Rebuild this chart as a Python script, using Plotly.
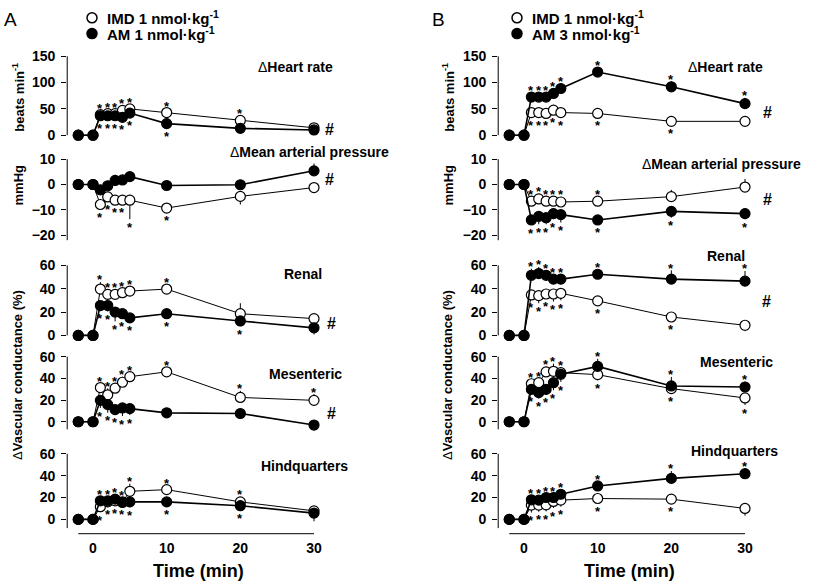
import plotly.graph_objects as go

W, H = 827, 587

time = [-2, 0, 1, 2, 3, 4, 5, 10, 20, 30]
x_ticks = [0, 10, 20, 30]

# ---------------- Panel A (IMD 1 vs AM 1 nmol/kg) ----------------
A_hr_imd = [0, 0, 39, 41, 41, 47, 50, 43, 28, 14]
A_hr_am = [0, 0, 37, 37, 37, 34, 42, 22, 13, 10]
A_map_imd = [0, 0, -7.9, -4.9, -6.2, -6.2, -6.2, -9.3, -4.7, -1.2]
A_map_am = [0, 0, -2.1, -0.5, 1.6, 1.8, 3.1, -0.4, -0.1, 5.4]
A_ren_imd = [0, 0, 39.7, 35.2, 35.2, 36.6, 38, 39.7, 18.6, 14.4]
A_ren_am = [0, 0, 25.6, 25.6, 20, 18.6, 15, 18.6, 12.4, 6.5]
A_mes_imd = [0, 0, 31.5, 24.8, 30.9, 36.4, 41.5, 46, 22.4, 19.7]
A_mes_am = [0, 0, 19.7, 15.8, 11.2, 12.7, 12.1, 8.2, 7.6, -3]
A_hq_imd = [0, 0, 11.6, 16, 17, 16, 25.7, 27.2, 16, 7.8]
A_hq_am = [0, 0, 17, 17, 18.5, 15.5, 16, 16, 12.5, 5.7]

A_hr_imd_err = [0, 0, 5, 5, 5, 5, 5, 6, 6, 4]
A_hr_am_err = [0, 0, 4, 4, 4, 4, 5, 5, 4, 4]
A_map_imd_err = [0, 0, 2, 1.5, 1.5, 1.5, 7.5, 1.5, 3.2, 1.5]
A_map_am_err = [0, 0, 1.5, 2, 2.2, 1.5, 1.2, 1.5, 1.5, 2.9]
A_ren_imd_err = [0, 0, 6, 3, 3, 3, 3, 3, 9, 2]
A_ren_am_err = [0, 0, 3, 5, 8, 3, 3, 2, 4.5, 5.6]
A_mes_imd_err = [0, 0, 3, 6, 4, 5, 4, 3, 6, 5.7]
A_mes_am_err = [0, 0, 7, 7.5, 4.5, 7.5, 6, 4.5, 2, 5.5]
A_hq_imd_err = [0, 0, 5, 3, 3, 4, 7, 3, 4.5, 2]
A_hq_am_err = [0, 0, 4, 3, 3, 4, 5, 2, 4, 7.5]

A_hr_imd_sig = [0, 0, 1, 1, 1, 1, 1, 1, 1, 0]
A_hr_am_sig = [0, 0, 1, 1, 1, 1, 1, 1, 0, 0]
A_map_imd_sig = [0, 0, 1, 1, 1, 1, 1, 1, 0, 0]
A_map_am_sig = [0, 0, 0, 0, 0, 0, 0, 0, 0, 0]
A_ren_imd_sig = [0, 0, 1, 1, 1, 1, 1, 1, 0, 0]
A_ren_am_sig = [0, 0, 1, 1, 1, 1, 1, 1, 1, 0]
A_mes_imd_sig = [0, 0, 1, 1, 1, 1, 1, 1, 1, 1]
A_mes_am_sig = [0, 0, 1, 1, 1, 1, 1, 0, 0, 0]
A_hq_imd_sig = [0, 0, 1, 1, 1, 1, 1, 1, 1, 0]
A_hq_am_sig = [0, 0, 1, 1, 1, 1, 1, 1, 1, 0]

# ---------------- Panel B (IMD 1 vs AM 3 nmol/kg) ----------------
B_hr_imd = [0, 0, 43, 43, 41.3, 47.5, 43, 41.3, 26.3, 26.3]
B_hr_am = [0, 0, 72.5, 72.5, 72.5, 79.4, 88.8, 120, 92, 60]
B_map_imd = [0, 0, -6.6, -5.7, -6.6, -6.6, -6.9, -6.6, -4.8, -1.0]
B_map_am = [0, 0, -14, -12.6, -13.1, -11.5, -11.9, -14, -10.6, -11.5]
B_ren_imd = [0, 0, 34.7, 34.1, 35.5, 35.5, 36.1, 29.6, 15.8, 8.7]
B_ren_am = [0, 0, 51.5, 53, 51.5, 48.2, 48.2, 52.4, 48.2, 46.5]
B_mes_imd = [0, 0, 35, 36, 45.9, 46.5, 45.2, 43.4, 30.5, 21.9]
B_mes_am = [0, 0, 29.8, 26.8, 29.8, 36, 43.7, 51, 33, 32]
B_hq_imd = [0, 0, 13, 13, 13.3, 16.4, 17.6, 19.1, 18.5, 10]
B_hq_am = [0, 0, 17.9, 17.6, 20, 20, 23, 30.6, 37.5, 41.8]

B_hr_imd_err = [0, 0, 6, 6, 6, 6, 6, 5, 6, 5]
B_hr_am_err = [0, 0, 5, 5, 5, 6, 5, 4, 10.6, 11]
B_map_imd_err = [0, 0, 2, 2, 2, 2, 2, 2, 2.7, 3.2]
B_map_am_err = [0, 0, 2, 3.1, 2.6, 2.2, 3.1, 1.5, 2.5, 2.2]
B_ren_imd_err = [0, 0, 3, 6.5, 4, 6.5, 6, 3, 3, 5]
B_ren_am_err = [0, 0, 5.6, 5.6, 4, 4, 4, 4, 7.6, 8.7]
B_mes_imd_err = [0, 0, 3, 4, 5, 7, 5, 5.2, 3, 6.5]
B_mes_am_err = [0, 0, 3, 5.5, 5, 7, 7, 7, 8.3, 5]
B_hq_imd_err = [0, 0, 6.7, 6, 6, 6, 6, 3, 3, 6.7]
B_hq_am_err = [0, 0, 3, 3, 3, 3, 3, 4, 6.7, 5]

B_hr_imd_sig = [0, 0, 1, 1, 1, 1, 1, 1, 1, 0]
B_hr_am_sig = [0, 0, 1, 1, 1, 1, 1, 1, 1, 1]
B_map_imd_sig = [0, 0, 1, 1, 1, 1, 1, 1, 0, 0]
B_map_am_sig = [0, 0, 1, 1, 1, 1, 1, 1, 1, 1]
B_ren_imd_sig = [0, 0, 1, 1, 1, 1, 1, 1, 1, 0]
B_ren_am_sig = [0, 0, 1, 1, 1, 1, 1, 1, 1, 1]
B_mes_imd_sig = [0, 0, 1, 1, 1, 1, 1, 1, 1, 1]
B_mes_am_sig = [0, 0, 1, 1, 1, 1, 1, 1, 1, 1]
B_hq_imd_sig = [0, 0, 1, 1, 1, 1, 1, 1, 1, 0]
B_hq_am_sig = [0, 0, 1, 1, 1, 1, 1, 1, 1, 1]

row_titles = ["Heart rate", "Mean arterial pressure", "Renal", "Mesenteric", "Hindquarters"]
legend_A = ["IMD 1 nmol·kg", "AM 1 nmol·kg"]
legend_B = ["IMD 1 nmol·kg", "AM 3 nmol·kg"]

# ---------------- layout geometry (pixels) ----------------
FONT = "Liberation Sans, Arial, sans-serif"

def px(x):
    return x / W

def py(y):
    return 1 - y / H

# zero pixel, px per unit, range lo, range hi, tick values, axis line extent
rows = [
    dict(zero=133, k=80 / 150, lo=-8, hi=160, ticks=[0, 50, 100, 150], line=(0, 150)),
    dict(zero=183, k=77 / 30, lo=-24, hi=12, ticks=[-20, -10, 0, 10], line=(-22, 10)),
    dict(zero=336, k=71 / 60, lo=-5, hi=64, ticks=[0, 20, 40, 60], line=(0, 60)),
    dict(zero=423.5, k=66 / 60, lo=-9, hi=64, ticks=[0, 20, 40, 60], line=(-7, 60)),
    dict(zero=522.5, k=66.5 / 60, lo=-13.1, hi=64, ticks=[0, 20, 40, 60], line=(-8, 60)),
]
XK = 7.367
XR = (-3.5, 32)
panel_x0 = {"A": 93, "B": 524}  # pixel of time 0

panels = {
    "A": [
        (A_hr_imd, A_hr_am, A_hr_imd_err, A_hr_am_err, A_hr_imd_sig, A_hr_am_sig),
        (A_map_imd, A_map_am, A_map_imd_err, A_map_am_err, A_map_imd_sig, A_map_am_sig),
        (A_ren_imd, A_ren_am, A_ren_imd_err, A_ren_am_err, A_ren_imd_sig, A_ren_am_sig),
        (A_mes_imd, A_mes_am, A_mes_imd_err, A_mes_am_err, A_mes_imd_sig, A_mes_am_sig),
        (A_hq_imd, A_hq_am, A_hq_imd_err, A_hq_am_err, A_hq_imd_sig, A_hq_am_sig),
    ],
    "B": [
        (B_hr_imd, B_hr_am, B_hr_imd_err, B_hr_am_err, B_hr_imd_sig, B_hr_am_sig),
        (B_map_imd, B_map_am, B_map_imd_err, B_map_am_err, B_map_imd_sig, B_map_am_sig),
        (B_ren_imd, B_ren_am, B_ren_imd_err, B_ren_am_err, B_ren_imd_sig, B_ren_am_sig),
        (B_mes_imd, B_mes_am, B_mes_imd_err, B_mes_am_err, B_mes_imd_sig, B_mes_am_sig),
        (B_hq_imd, B_hq_am, B_hq_imd_err, B_hq_am_err, B_hq_imd_sig, B_hq_am_sig),
    ],
}

# title positions (pixel centres)
title_pos = {
    "A": [(295, 64), (309, 150), (303, 274), (305, 375), (304, 468)],
    "B": [(725, 64), (721, 162), (726, 255), (736, 363), (734, 453)],
}
hash_pos = {
    "A": [(329, 127), (329, 178), (331, 324), (331, 415)],
    "B": [(767, 110), (767, 198), (766, 302)],
}

fig = go.Figure()
layout = {}
annotations = []
shapes = []


def paper_note(x, y, text, size, xanchor="center", angle=0):
    return dict(x=px(x), y=py(y), xref="paper", yref="paper", showarrow=False,
                xanchor=xanchor, yanchor="middle", text=text, textangle=angle,
                font=dict(family=FONT, size=size, color="black"))


idx = 0
for p_i, pname in enumerate(["A", "B"]):
    x0p = panel_x0[pname]
    xdom = [px(x0p + XR[0] * XK), px(x0p + XR[1] * XK)]
    for r_i, row in enumerate(rows):
        idx += 1
        xa = "x" if idx == 1 else f"x{idx}"
        ya = "y" if idx == 1 else f"y{idx}"
        xkey = "xaxis" if idx == 1 else f"xaxis{idx}"
        ykey = "yaxis" if idx == 1 else f"yaxis{idx}"
        top = row["zero"] - row["hi"] * row["k"]
        bot = row["zero"] - row["lo"] * row["k"]
        bottom_row = r_i == len(rows) - 1
        layout[xkey] = dict(
            domain=xdom, range=list(XR), anchor=ya, showgrid=False, zeroline=False,
            showline=False, ticks="", tickvals=x_ticks if bottom_row else [],
            showticklabels=bottom_row, ticklabelstandoff=4,
            tickfont=dict(family=FONT, size=14, color="black", weight="bold"),
        )
        layout[ykey] = dict(
            domain=[py(bot), py(top)], range=[row["lo"], row["hi"]], anchor=xa,
            showgrid=False, zeroline=False, showline=False, ticks="outside",
            ticklen=5, tickwidth=1, tickcolor="black", tickvals=row["ticks"],
            ticklabelstandoff=3,
            tickfont=dict(family=FONT, size=14, color="black", weight="bold"),
        )
        # y axis line (range frame)
        shapes.append(dict(type="line", xref=f"{xa} domain", x0=0, x1=0, yref=ya,
                           y0=row["line"][0], y1=row["line"][1],
                           line=dict(color="black", width=1)))
        if bottom_row:
            shapes.append(dict(type="line", xref=xa, x0=-2, x1=30, yref=f"{ya} domain",
                               y0=0, y1=0, line=dict(color="black", width=1)))

        imd, am, imd_err, am_err, imd_sig, am_sig = panels[pname][r_i]
        series = [
            (imd, am, imd_err, imd_sig, "white", 1.0),
            (am, imd, am_err, am_sig, "black", 1.6),
        ]
        for vals, other, err, sig, fill, lw in series:
            up = [e if v >= o else 0 for v, o, e in zip(vals, other, err)]
            dn = [0 if v >= o else e for v, o, e in zip(vals, other, err)]
            fig.add_trace(go.Scatter(
                x=time, y=vals, xaxis=xa, yaxis=ya, mode="lines+markers",
                line=dict(color="black", width=lw),
                marker=dict(symbol="circle", size=10, color=fill,
                            line=dict(color="black", width=1.2)),
                error_y=dict(type="data", symmetric=False, array=up, arrayminus=dn,
                             color="black", thickness=1, width=0),
                cliponaxis=False, showlegend=False, hoverinfo="skip",
            ))
            for t, v, o, e, s in zip(time, vals, other, err, sig):
                if not s:
                    continue
                off = max(9.5, e * row["k"] + 5)
                ys = (off - 3) if v >= o else (-off - 3)
                annotations.append(dict(
                    x=t, y=v, xref=xa, yref=ya, text="<b>*</b>", showarrow=False,
                    xanchor="center", yanchor="middle",
                    yshift=ys, font=dict(family=FONT, size=13, color="black"),
                ))

        tx, ty = title_pos[pname][r_i]
        pre = "Δ" if r_i < 2 else ""
        annotations.append(paper_note(tx, ty, f"{pre}<b>{row_titles[r_i]}</b>", 14))

    for hx, hy in hash_pos[pname]:
        annotations.append(paper_note(hx, hy, "<b>#</b>", 16))

    # panel letter
    lx = 10 if pname == "A" else 438
    annotations.append(paper_note(lx, 16, pname, 19))

    # legend (circle + text)
    leg = legend_A if pname == "A" else legend_B
    cx = 92 if pname == "A" else 517
    for j, (lab, fill) in enumerate(zip(leg, ["white", "black"])):
        cy = 14 + 16 * j
        shapes.append(dict(type="circle", xref="paper", yref="paper",
                           xsizemode="pixel", ysizemode="pixel",
                           xanchor=px(cx), yanchor=py(cy), x0=-5, x1=5, y0=-5, y1=5,
                           fillcolor=fill, line=dict(color="black", width=1.5)))
        annotations.append(paper_note(cx + 13, cy, f"<b>{lab}<sup>-1</sup></b>", 15,
                                      xanchor="left"))

    # y axis titles
    ax_x = 18 if pname == "A" else 448
    for txt, yy in [("<b>beats min<sup>-1</sup></b>", 95), ("<b>mmHg</b>", 184),
                    ("Δ<b>Vascular conductance (%)</b>", 376)]:
        annotations.append(paper_note(ax_x, yy, txt, 13, angle=-90))

    # x axis title
    annotations.append(paper_note(x0p + 14.3 * XK, 575, "<b>Time (min)</b>", 18))

fig.update_layout(
    width=W, height=H, margin=dict(l=0, r=0, t=0, b=0),
    paper_bgcolor="white", plot_bgcolor="rgba(0,0,0,0)",
    showlegend=False, annotations=annotations, shapes=shapes,
    font=dict(family=FONT, color="black"),
    **layout,
)

fig.write_html(
    "out.html",
    config={"displayModeBar": False},
    post_script="document.body.style.margin='0px';document.body.style.overflow='hidden';",
)
